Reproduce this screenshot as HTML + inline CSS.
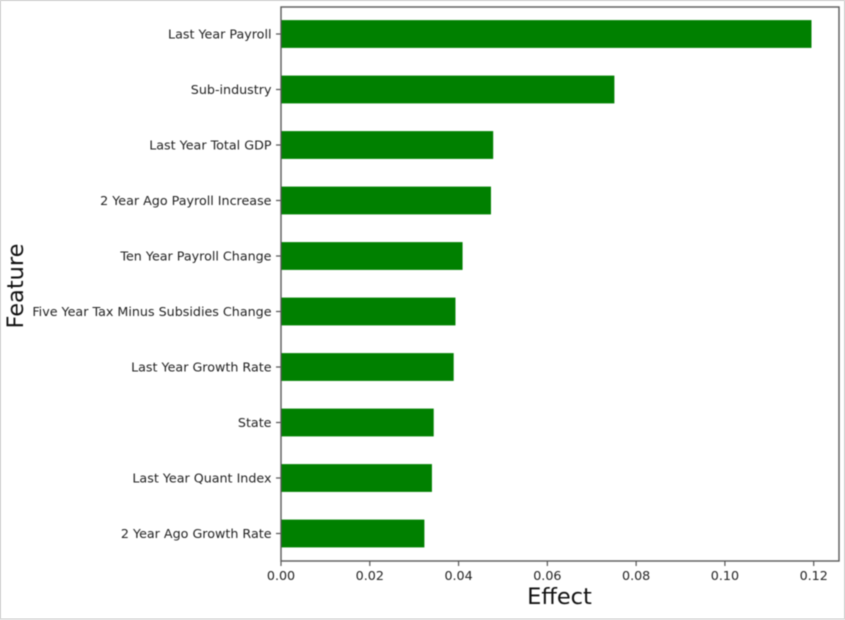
<!DOCTYPE html>
<html>
<head>
<meta charset="utf-8">
<style>
html,body{margin:0;padding:0;background:#fff;width:845px;height:620px;overflow:hidden}
svg{display:block;font-family:"DejaVu Sans","Liberation Sans",sans-serif}
.tick{font-size:12.7px;fill:#222}
.title{font-size:22.5px;fill:#111}
</style>
</head>
<body>
<svg id="chart" xmlns="http://www.w3.org/2000/svg" width="845" height="620" viewBox="0 0 845 620">
<rect x="0.5" y="0.5" width="844" height="618.5" fill="#fff" stroke="#d8d8d8" stroke-width="1.4"/>
<g id="plot" style="filter:blur(0.45px)"></g>
</svg>
<script>
const categories = ["Last Year Payroll","Sub-industry","Last Year Total GDP","2 Year Ago Payroll Increase","Ten Year Payroll Change","Five Year Tax Minus Subsidies Change","Last Year Growth Rate","State","Last Year Quant Index","2 Year Ago Growth Rate"];
const effects = [0.1195,0.0751,0.0478,0.0473,0.0409,0.0393,0.0389,0.0344,0.0340,0.0323];
const xTicks = [0,0.02,0.04,0.06,0.08,0.10,0.12];
const xTickLabels = ["0.00","0.02","0.04","0.06","0.08","0.10","0.12"];

const plotLeft = 281, plotRight = 839, plotTop = 7, plotBottom = 561;
const xUnit = (813.7 - 281) / 0.12;
const firstCenter = 34, step = 55.5, barHeight = 27.8;
const xScale = v => plotLeft + v * xUnit;
const yScale = i => firstCenter + i * step;
const plot = document.getElementById('plot');
const NS = 'http://www.w3.org/2000/svg';
function make(tag, attrs, parent) {
  const el = document.createElementNS(NS, tag);
  for (const k in attrs) el.setAttribute(k, attrs[k]);
  parent.appendChild(el);
  return el;
}
categories.forEach((name, i) => {
  const bar = make('rect', {x:plotLeft, y:yScale(i)-barHeight/2, width:xScale(effects[i])-plotLeft, height:barHeight, fill:'#008000'}, plot);
  
  
  const tick = make('line', {x1:plotLeft-5, x2:plotLeft, y1:yScale(i), y2:yScale(i), stroke:'#555', 'stroke-width':1.2}, plot);
  
  
  const label = make('text', {x:plotLeft-9.5, y:yScale(i)+4.6, 'text-anchor':'end', class:'tick'}, plot);
  label.textContent = name;
  
  
});
xTicks.forEach((v, i) => {
  const tick = make('line', {x1:xScale(v), x2:xScale(v), y1:plotBottom, y2:plotBottom+5, stroke:'#555', 'stroke-width':1.2}, plot);
  
  
  const label = make('text', {x:xScale(v), y:plotBottom+19, 'text-anchor':'middle', class:'tick'}, plot);
  label.textContent = xTickLabels[i];
  
  
});
const frame = make('rect', {x:plotLeft, y:plotTop, width:plotRight-plotLeft, height:plotBottom-plotTop, fill:'none', stroke:'#5a5a5a', 'stroke-width':1.4}, plot);


const xTitle = make('text', {x:559.5, y:604, 'text-anchor':'middle', class:'title'}, plot);
xTitle.textContent = 'Effect';


const yTitle = make('text', {x:0, y:0, 'text-anchor':'middle', class:'title', transform:'translate(23,286) rotate(-90)'}, plot);
yTitle.textContent = 'Feature';


</script>
</body>
</html>
